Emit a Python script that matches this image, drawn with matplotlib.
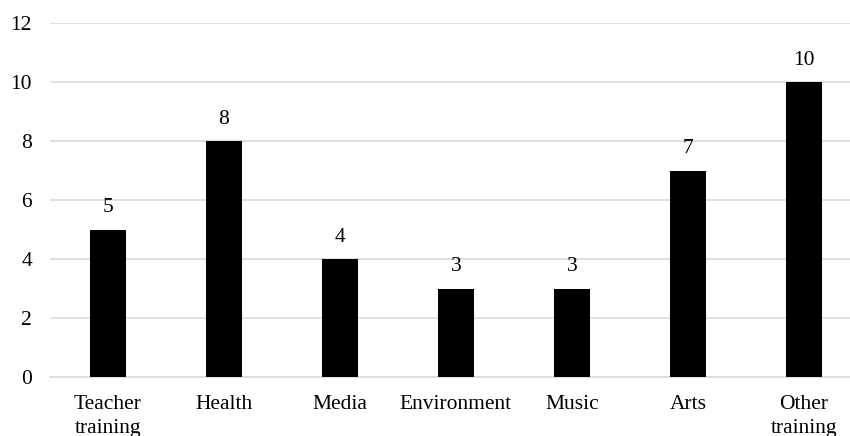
import matplotlib.pyplot as plt

categories = ['Teacher\ntraining', 'Health', 'Media', 'Environment', 'Music', 'Arts', 'Other\ntraining']
counts = [5, 8, 4, 3, 3, 7, 10]
yticks = [0, 2, 4, 6, 8, 10, 12]

plt.rcParams['font.family'] = ['Liberation Serif', 'DejaVu Serif']

fig = plt.figure(figsize=(8.5, 4.36), dpi=100)
# axes runs off the right edge, like the source image
ax = fig.add_axes([50 / 850, 1 - 377 / 436, 812 / 850, (377 - 23.5) / 436])

x = list(range(len(categories)))
bars = ax.bar(x, counts, width=0.31, color='black', zorder=3)

for xi, v in zip(x, counts):
    ax.annotate(str(v), xy=(xi, v), xytext=(0, 9), textcoords='offset points',
                ha='center', va='bottom', fontsize=15.5)

ax.set_xlim(-0.5, len(categories) - 0.5)
ax.set_ylim(0, 12)
ax.set_yticks(yticks)
ax.set_xticks(x)
ax.set_xticklabels(categories, fontsize=15.5, linespacing=1.32)
ax.tick_params(axis='y', length=0, pad=13, labelsize=15.5)
ax.tick_params(axis='x', length=0, pad=13)

ax.yaxis.grid(True, color='#d9d9d9', linewidth=1.2, zorder=0)
for s in ['top', 'right', 'left']:
    ax.spines[s].set_visible(False)
ax.spines['bottom'].set_color('#d9d9d9')
ax.spines['bottom'].set_linewidth(1.2)

plt.savefig('out.png', dpi=100)
